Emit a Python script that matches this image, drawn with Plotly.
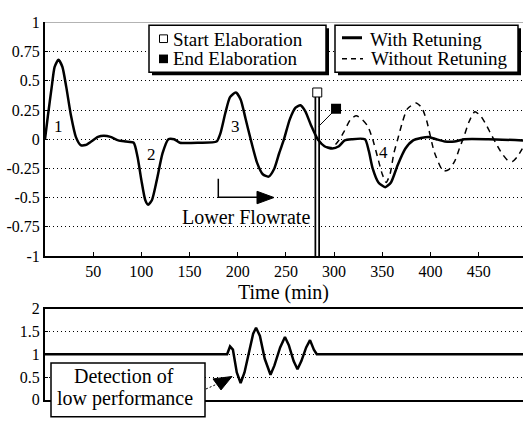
import plotly.graph_objects as go

# ---------------- data ----------------
t_with = [0, 3, 7, 10, 14, 18, 22, 27, 32, 37, 42, 48, 55, 61, 68, 76, 84, 92, 96, 100,
          104, 107, 111, 116, 122, 128, 134, 140, 160, 178, 182, 187, 192, 198, 203, 208, 214, 220, 226, 232,
          238, 243, 248, 254, 260, 265, 270, 276, 283, 290, 298, 305, 311, 318, 332, 336, 340, 346, 353, 359,
          366, 374, 382, 390, 398, 406, 415, 425, 435, 460, 496]
y_with = [0, 0.2, 0.45, 0.62, 0.68, 0.62, 0.45, 0.2, 0.02, -0.05, -0.05, -0.02, 0.02, 0.03, 0.02, -0.01, -0.02, -0.03, -0.15, -0.35,
          -0.52, -0.56, -0.52, -0.35, -0.12, 0.0, 0.0, -0.03, -0.03, -0.02, 0.05, 0.22, 0.36, 0.4, 0.34, 0.18, -0.02, -0.2, -0.3, -0.32,
          -0.25, -0.12, 0.0, 0.17, 0.27, 0.29, 0.24, 0.12, 0.0, -0.06, -0.08, -0.06, -0.01, 0.0, 0.0, -0.1, -0.25, -0.37, -0.41, -0.37,
          -0.22, -0.08, -0.01, 0.01, 0.02, 0.0, -0.02, -0.02, 0.0, 0.0, -0.01]

t_without = [283, 290, 298, 304, 310, 317, 323, 329, 335, 340, 345, 350, 354, 358, 362, 366, 371, 376, 385, 391,
             396, 404, 413, 419, 425, 430, 435, 440, 446, 452, 458, 463, 469, 474, 480, 485, 490, 496]
y_without = [0.0, -0.06, -0.07, -0.02, 0.06, 0.17, 0.2, 0.17, 0.11, 0.0, -0.15, -0.3, -0.37, -0.3, -0.12, 0.0, 0.15, 0.26, 0.31, 0.27,
             0.16, -0.11, -0.27, -0.26, -0.19, -0.08, 0.03, 0.15, 0.235, 0.2, 0.12, 0.04, -0.05, -0.12, -0.18, -0.19, -0.15, -0.07]

t_perf = [0, 189, 192, 195, 199, 203, 207, 212, 216, 219, 223, 228, 234, 238, 244, 249, 253, 258, 262, 266,
          271, 275, 279, 282, 496]
y_perf = [1, 1, 1.17, 1.1, 0.6, 0.37, 0.6, 1.1, 1.45, 1.58, 1.4, 0.9, 0.55, 0.75, 1.15, 1.38, 1.2, 0.85, 0.67, 0.85,
          1.15, 1.31, 1.1, 1.0, 1.0]

elab_start_t, elab_start_y = 282.5, 0.40
elab_end_t, elab_end_y = 302, 0.26
elab_link_t, elab_link_y = 284, 0.11

peak_labels = ["1", "2", "3", "4"]
peak_t = [14, 110.5, 197.6, 351]
peak_y = [0.11, -0.134, 0.11, -0.11]

x_ticks = [50, 100, 150, 200, 250, 300, 350, 400, 450]
top_yvals = [-1, -0.75, -0.5, -0.25, 0, 0.25, 0.5, 0.75, 1]
top_ytext = ["-1", "-0.75", "-0.5", "-0.25", "0", "0.25", "0.5", "0.75", "1"]
bot_yvals = [0, 0.5, 1, 1.5, 2]
bot_ytext = ["0", "0.5", "1", "1.5", "2"]

# ---------------- geometry helpers ----------------
W, H, L = 523, 421, 45
def px(x):
    return (x - L) / (W - L)
def py(y):
    return 1 - y / H

FONT = "'Liberation Serif', 'DejaVu Serif', 'Times New Roman', Times, serif"

fig = go.Figure()

# vertical double line at start of elaboration
fig.add_trace(go.Scatter(x=[elab_start_t, elab_start_t], y=[-1, elab_start_y], mode="lines",
                         line=dict(color="black", width=5.5), xaxis="x", yaxis="y", showlegend=False, hoverinfo="skip"))
fig.add_trace(go.Scatter(x=[elab_start_t, elab_start_t], y=[-1, elab_start_y], mode="lines",
                         line=dict(color="white", width=2), xaxis="x", yaxis="y", showlegend=False, hoverinfo="skip"))

fig.add_trace(go.Scatter(x=t_without, y=y_without, mode="lines",
                         line=dict(color="black", width=1.5, dash="6px,5px", shape="spline", smoothing=0.6),
                         xaxis="x", yaxis="y", showlegend=False))
fig.add_trace(go.Scatter(x=t_with, y=y_with, mode="lines",
                         line=dict(color="black", width=2.5, shape="spline", smoothing=0.6),
                         xaxis="x", yaxis="y", showlegend=False))

fig.add_trace(go.Scatter(x=[elab_link_t, elab_end_t], y=[elab_link_y, elab_end_y], mode="lines",
                         line=dict(color="black", width=1), xaxis="x", yaxis="y", showlegend=False))
fig.add_trace(go.Scatter(x=[elab_start_t], y=[elab_start_y], mode="markers",
                         marker=dict(symbol="square", size=9, color="white", line=dict(color="black", width=1)),
                         xaxis="x", yaxis="y", showlegend=False))
fig.add_trace(go.Scatter(x=[elab_end_t], y=[elab_end_y], mode="markers",
                         marker=dict(symbol="square", size=10, color="black"),
                         xaxis="x", yaxis="y", showlegend=False))

fig.add_trace(go.Scatter(x=t_perf, y=y_perf, mode="lines",
                         line=dict(color="black", width=2.5),
                         xaxis="x2", yaxis="y2", showlegend=False))

shapes = []
# top border of upper plot
shapes.append(dict(type="line", xref="x", yref="y", x0=0, x1=496, y0=1, y1=1,
                   line=dict(color="#555", width=1)))

def box(x0, y0, x1, y1, shadow=True, lw=1.5):
    out = []
    if shadow:
        out.append(dict(type="rect", xref="paper", yref="paper", x0=px(x0 + 3), x1=px(x1 + 3),
                        y0=py(y0 + 3), y1=py(y1 + 3), fillcolor="black", line=dict(width=0)))
    out.append(dict(type="rect", xref="paper", yref="paper", x0=px(x0), x1=px(x1),
                    y0=py(y0), y1=py(y1), fillcolor="white", line=dict(color="black", width=lw)))
    return out

shapes += box(149, 18, 326, 67)
shapes += box(335, 18, 518, 67)
# legend symbols
shapes.append(dict(type="rect", xref="paper", yref="paper", x0=px(159.5), x1=px(167.5), y0=py(28), y1=py(36),
                   fillcolor="white", line=dict(color="black", width=1)))
shapes.append(dict(type="rect", xref="paper", yref="paper", x0=px(159), x1=px(168), y0=py(48.5), y1=py(57.5),
                   fillcolor="black", line=dict(color="black", width=0)))
shapes.append(dict(type="line", xref="paper", yref="paper", x0=px(342), x1=px(362), y0=py(31), y1=py(31),
                   line=dict(color="black", width=3)))
shapes.append(dict(type="line", xref="paper", yref="paper", x0=px(342), x1=px(363), y0=py(53), y1=py(53),
                   line=dict(color="black", width=1.5, dash="5px,4px")))

# Lower flowrate arrow
shapes.append(dict(type="path", xref="paper", yref="paper",
                   path=f"M {px(218.3)},{py(178)} L {px(218.3)},{py(197.3)} L {px(262)},{py(197.3)}",
                   line=dict(color="black", width=1.5)))
shapes.append(dict(type="path", xref="paper", yref="paper",
                   path=f"M {px(257)},{py(191)} L {px(257)},{py(204)} L {px(274)},{py(197.5)} Z",
                   fillcolor="black", line=dict(color="black", width=1)))

# Detection box
shapes += box(51, 370, 205, 426, shadow=False, lw=1.5)
shapes.append(dict(type="line", xref="paper", yref="paper", x0=px(206), x1=px(219), y0=py(397), y1=py(391),
                   line=dict(color="black", width=1, dash="2px,2px")))
shapes.append(dict(type="path", xref="paper", yref="paper",
                   path=f"M {px(213)},{py(386.5)} L {px(232)},{py(384)} L {px(221)},{py(398)} Z",
                   fillcolor="black", line=dict(color="black", width=1)))

annotations = []
def txt(x, y, s, size=20, xanchor="center"):
    annotations.append(dict(xref="paper", yref="paper", x=px(x), y=py(y), text=s, showarrow=False,
                            xanchor=xanchor, yanchor="middle", font=dict(family=FONT, size=size, color="black")))

txt(171, 33, "Start Elaboration", size=19, xanchor="left")
txt(171, 53, "End Elaboration", size=19, xanchor="left")
txt(368, 33, "With Retuning", size=19, xanchor="left")
txt(369, 53, "Without Retuning", size=19, xanchor="left")
txt(246, 218, "Lower Flowrate")
txt(283, 296, "Time (min)", size=20)
txt(124, 383, "Detection of")
txt(125, 407, "low performance")

for lab, tx, ty in zip(peak_labels, peak_t, peak_y):
    annotations.append(dict(xref="x", yref="y", x=tx, y=ty, text=lab, showarrow=False,
                            font=dict(family=FONT, size=17, color="black")))

tickfont = dict(family=FONT, size=16, color="black")
grid = dict(showgrid=True, gridcolor="black", gridwidth=1, griddash="1px,3px", zeroline=False)

fig.update_layout(
    width=W, height=H,
    margin=dict(l=L, r=0, t=0, b=0),
    paper_bgcolor="white", plot_bgcolor="white",
    showlegend=False,
    font=dict(family=FONT),
    xaxis=dict(domain=[0, 1], range=[0, 496], anchor="y", tickmode="array", tickvals=x_ticks,
               ticks="inside", ticklen=4, tickwidth=1, tickcolor="black",
               showline=True, linecolor="black", linewidth=2, showgrid=False, zeroline=False,
               tickfont=tickfont),
    yaxis=dict(domain=[1 - 258.5 / H, 1 - 15 / H], range=[-1, 1], anchor="x", tickmode="array",
               tickvals=top_yvals, ticktext=top_ytext, ticks="inside", ticklen=3, tickcolor="black",
               showline=True, linecolor="black", linewidth=2, tickfont=tickfont, **grid),
    xaxis2=dict(domain=[0, 1], range=[0, 496], anchor="y2", showticklabels=False, ticks="",
                showline=True, mirror=True, linecolor="black", linewidth=2, showgrid=False, zeroline=False),
    yaxis2=dict(domain=[1 - 408.3 / H, 1 - 313.3 / H], range=[0, 2], anchor="x2", tickmode="array",
                tickvals=bot_yvals, ticktext=bot_ytext, ticks="inside", ticklen=3, tickcolor="black",
                showline=True, linecolor="black", linewidth=2, tickfont=tickfont, **grid),
    shapes=shapes,
    annotations=annotations,
)

fig.write_html("out.html")
